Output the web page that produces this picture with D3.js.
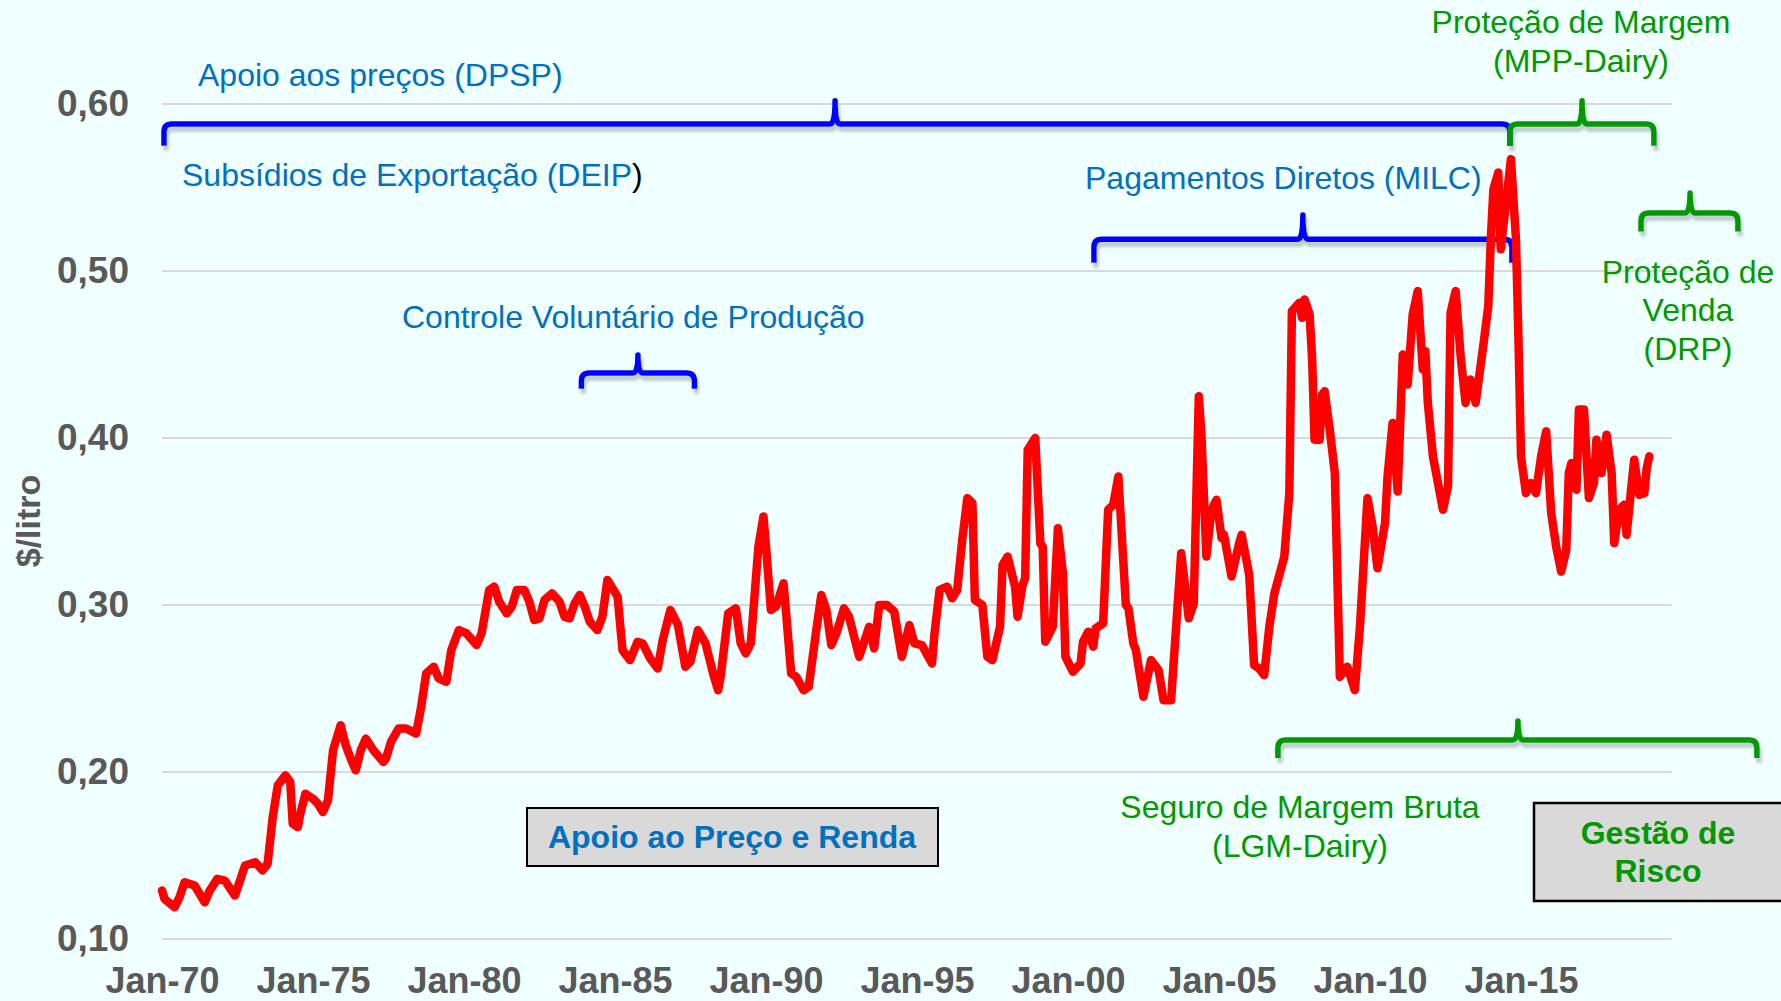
<!DOCTYPE html>
<html>
<head>
<meta charset="utf-8">
<script src="https://cdn.jsdelivr.net/npm/d3@7"></script>
<style>
  body { margin: 0; background: #f0ffff; }
  svg { display: block; font-family: "Liberation Sans", Arial, sans-serif; }
</style>
</head>
<body>
<svg id="chart" width="1781" height="1001"></svg>
<script>
// milk price, $/litro at its turning points
const months = [
  "1970-01","1970-02","1970-06","1970-08","1970-10","1971-02","1971-06","1971-08","1971-11",
  "1972-02","1972-06","1972-08","1972-10","1973-02","1973-05","1973-07","1973-09","1973-11",
  "1974-02","1974-04","1974-05","1974-07","1974-08","1974-10","1975-01","1975-03","1975-05",
  "1975-07","1975-09","1975-12","1976-02","1976-04","1976-06","1976-08","1976-10","1977-01",
  "1977-05","1977-06","1977-08","1977-11","1978-02","1978-06","1978-08","1978-10","1979-01",
  "1979-03","1979-06","1979-08","1979-11","1980-02","1980-06","1980-08","1980-11","1981-01",
  "1981-03","1981-06","1981-08","1981-10","1982-01","1982-03","1982-05","1982-07","1982-09",
  "1982-12","1983-03","1983-05","1983-07","1983-09","1983-11","1984-01","1984-03","1984-06",
  "1984-08","1984-10","1985-02","1985-04","1985-07","1985-10","1985-12","1986-03","1986-06",
  "1986-08","1986-11","1987-02","1987-05","1987-07","1987-10","1988-01","1988-04","1988-06",
  "1988-07","1988-10","1989-01","1989-03","1989-05","1989-07","1989-10","1989-12","1990-01",
  "1990-03","1990-05","1990-08","1990-09","1990-11","1991-01","1991-04","1991-06","1991-09",
  "1991-11","1992-01","1992-03","1992-05","1992-08","1992-10","1993-02","1993-06","1993-08",
  "1993-10","1994-01","1994-04","1994-07","1994-10","1994-12","1995-03","1995-07","1995-08",
  "1995-10","1996-01","1996-03","1996-05","1996-07","1996-09","1996-11","1996-12","1997-03",
  "1997-05","1997-07","1997-10","1997-11","1998-01","1998-04","1998-05","1998-07","1998-08",
  "1998-09","1998-12","1999-02","1999-03","1999-04","1999-07","1999-09","1999-11","1999-12",
  "2000-03","2000-06","2000-07","2000-09","2000-11","2000-12","2001-03","2001-05","2001-07",
  "2001-09","2001-12","2002-01","2002-03","2002-04","2002-07","2002-10","2003-01","2003-03",
  "2003-06","2003-10","2004-01","2004-03","2004-05","2004-06","2004-08","2004-10","2004-12",
  "2005-02","2005-03","2005-06","2005-09","2005-10","2006-01","2006-03","2006-05","2006-07",
  "2006-09","2006-11","2007-03","2007-05","2007-06","2007-09","2007-10","2007-11","2008-01",
  "2008-02","2008-03","2008-05","2008-06","2008-07","2008-09","2008-11","2009-01","2009-04",
  "2009-07","2009-09","2009-12","2010-02","2010-04","2010-07","2010-08","2010-10","2010-12",
  "2011-02","2011-04","2011-06","2011-08","2011-10","2011-11","2011-12","2012-02","2012-06",
  "2012-08","2012-09","2012-11","2013-01","2013-03","2013-05","2013-07","2013-10","2013-12",
  "2014-01","2014-02","2014-04","2014-05","2014-09","2014-11","2014-12","2015-01","2015-03",
  "2015-05","2015-07","2015-09","2015-11","2016-01","2016-03","2016-05","2016-07","2016-08",
  "2016-09","2016-11","2016-12","2017-02","2017-03","2017-04","2017-06","2017-07","2017-09",
  "2017-11","2018-01","2018-02","2018-04","2018-06","2018-07","2018-09","2018-10","2018-12",
  "2019-02","2019-03","2019-04"
];
const prices = [
  0.129,0.124,0.119,0.125,0.134,0.132,0.122,0.129,0.136,
  0.135,0.126,0.135,0.144,0.146,0.141,0.145,0.173,0.192,
  0.198,0.194,0.169,0.167,0.175,0.187,0.184,0.181,0.176,
  0.183,0.213,0.228,0.216,0.208,0.201,0.213,0.220,0.213,
  0.206,0.208,0.218,0.226,0.226,0.223,0.239,0.259,0.263,
  0.256,0.254,0.273,0.285,0.283,0.276,0.283,0.309,0.311,
  0.302,0.295,0.299,0.309,0.309,0.302,0.291,0.292,0.303,
  0.307,0.302,0.293,0.292,0.301,0.306,0.299,0.290,0.285,
  0.293,0.315,0.305,0.273,0.267,0.278,0.277,0.268,0.262,
  0.279,0.297,0.288,0.263,0.266,0.285,0.277,0.259,0.249,
  0.257,0.295,0.298,0.277,0.271,0.277,0.335,0.353,0.335,
  0.297,0.299,0.313,0.295,0.259,0.257,0.249,0.251,0.285,
  0.306,0.297,0.276,0.283,0.298,0.293,0.269,0.287,0.274,
  0.300,0.300,0.296,0.269,0.288,0.277,0.276,0.265,0.283,
  0.309,0.311,0.304,0.309,0.339,0.364,0.361,0.303,0.300,
  0.269,0.267,0.287,0.324,0.329,0.311,0.293,0.312,0.316,
  0.393,0.400,0.337,0.335,0.278,0.287,0.346,0.319,0.269,
  0.260,0.265,0.278,0.284,0.275,0.286,0.289,0.357,0.360,
  0.377,0.300,0.298,0.277,0.273,0.245,0.267,0.261,0.243,
  0.243,0.331,0.292,0.301,0.425,0.403,0.329,0.357,0.363,
  0.340,0.342,0.317,0.337,0.342,0.318,0.264,0.262,0.258,
  0.287,0.307,0.329,0.367,0.476,0.481,0.472,0.483,0.474,
  0.447,0.399,0.399,0.426,0.428,0.405,0.379,0.257,0.263,
  0.249,0.287,0.364,0.347,0.322,0.349,0.377,0.409,0.368,
  0.450,0.432,0.474,0.488,0.441,0.452,0.421,0.389,0.357,
  0.371,0.475,0.488,0.449,0.421,0.435,0.421,0.455,0.479,
  0.519,0.549,0.559,0.513,0.567,0.519,0.459,0.389,0.367,
  0.373,0.367,0.389,0.404,0.355,0.335,0.320,0.333,0.379,
  0.385,0.369,0.417,0.417,0.391,0.364,0.373,0.399,0.379,
  0.402,0.379,0.337,0.357,0.360,0.342,0.373,0.387,0.366,
  0.367,0.382,0.389
];
const yTicks = [0.10, 0.20, 0.30, 0.40, 0.50, 0.60];
const xTickYears = [1970, 1975, 1980, 1985, 1990, 1995, 2000, 2005, 2010, 2015];
const xTickLabels = ["Jan-70","Jan-75","Jan-80","Jan-85","Jan-90","Jan-95","Jan-00","Jan-05","Jan-10","Jan-15"];
const mppStart = "2014-08-20";

// program braces: span in time, height in $/litro
const braces = [
  {from: "1970-01-25", to: "2014-08-20", tip: "1992-04-15", level: 0.588, top: 0.602, leg: 0.575, color: "#0000ff"},
  {from: "2014-08-20", to: "2019-05-27", tip: "2017-01-08", level: 0.588, top: 0.602, leg: 0.575, color: "#009a00"},
  {from: "2000-11-10", to: "2014-09-13", tip: "2007-10-12", level: 0.519, top: 0.5335, leg: 0.505, color: "#0000ff"},
  {from: "2018-12-22", to: "2022-03-08", tip: "2020-08-06", level: 0.5347, top: 0.5467, leg: 0.5237, color: "#009a00"},
  {from: "1983-11-21", to: "1987-08-19", tip: "1985-10-05", level: 0.4389, top: 0.4497, leg: 0.4295, color: "#0000ff"},
  {from: "2006-12-14", to: "2022-10-24", tip: "2014-11-25", level: 0.2192, top: 0.2305, leg: 0.2084, color: "#009a00"}
];

const blue = "#0070c0", green = "#009900";

const parseMonth = d3.timeParse("%Y-%m");
const parseDay = d3.timeParse("%Y-%m-%d");
const data = months.map((m, i) => ({date: parseMonth(m), value: prices[i]}));

const svg = d3.select("#chart");
const margin = {top: 104, right: 109, bottom: 62, left: 162};
const width = 1781, height = 1001;

svg.append("rect").attr("width", width).attr("height", height).attr("fill", "#f0ffff");

const defs = svg.append("defs");
defs.append("filter").attr("id", "shadow")
    .attr("x", "-5%").attr("y", "-50%").attr("width", "110%").attr("height", "200%")
  .append("feDropShadow")
    .attr("dx", 2).attr("dy", 5).attr("stdDeviation", 1.5)
    .attr("flood-color", "#7a8a8a").attr("flood-opacity", 0.45);

const x = d3.scaleTime()
    .domain([new Date(1970, 0, 1), new Date(2020, 0, 1)])
    .range([margin.left, width - margin.right]);
const y = d3.scaleLinear()
    .domain([0.1, 0.6])
    .range([height - margin.bottom, margin.top]);

// gridlines
svg.append("g")
  .selectAll("line").data(yTicks).enter().append("line")
    .attr("x1", x.range()[0]).attr("x2", x.range()[1])
    .attr("y1", d => y(d)).attr("y2", d => y(d))
    .attr("stroke", "#d9d9d9").attr("stroke-width", 2);

// axes
const fmt = d => d.toFixed(2).replace(".", ",");
const yAxis = d3.axisLeft(y).tickValues(yTicks).tickFormat(fmt).tickSize(0).tickPadding(33);
const gy = svg.append("g").attr("transform", `translate(${margin.left},0)`).call(yAxis);

const xAxis = d3.axisBottom(x)
    .tickValues(xTickYears.map(yr => new Date(yr, 0, 1)))
    .tickFormat((d, i) => xTickLabels[i])
    .tickSize(0).tickPadding(28);
const gx = svg.append("g").attr("transform", `translate(0,${height - margin.bottom})`).call(xAxis);

[gx, gy].forEach(g => {
  g.select(".domain").remove();
  g.selectAll("text")
    .attr("fill", "#595959")
    .style("font-weight", "bold")
    .style("font-family", "'Liberation Sans', Arial, sans-serif");
});
gy.selectAll("text").style("font-size", "37px");
gx.selectAll("text").style("font-size", "36px");

svg.append("text")
    .attr("transform", "translate(40,521) rotate(-90)")
    .attr("text-anchor", "middle")
    .attr("fill", "#595959")
    .style("font-size", "34px").style("font-weight", "bold")
    .text("$/litro");

// braces
function bracePath(b) {
  const x1 = x(parseDay(b.from)), x2 = x(parseDay(b.to)), xm = x(parseDay(b.tip));
  const yl = y(b.level), yt = y(b.top), yb = y(b.leg);
  const r = 8, s = 5;
  return `M${x1},${yb} L${x1},${yl + r} Q${x1},${yl} ${x1 + r},${yl} L${xm - s},${yl}` +
         ` Q${xm},${yl} ${xm},${yt} Q${xm},${yl} ${xm + s},${yl}` +
         ` L${x2 - r},${yl} Q${x2},${yl} ${x2},${yl + r} L${x2},${yb}`;
}
svg.append("g").attr("filter", "url(#shadow)")
  .selectAll("path").data(braces).enter().append("path")
    .attr("d", bracePath)
    .attr("fill", "none")
    .attr("stroke", d => d.color)
    .attr("stroke-width", 5.5)
    .attr("stroke-linejoin", "round");

// price line
const line = d3.line().x(d => x(d.date)).y(d => y(d.value));
svg.append("path").datum(data)
    .attr("d", line)
    .attr("fill", "none")
    .attr("stroke", "#ff0000")
    .attr("stroke-width", 8.5)
    .attr("stroke-linejoin", "round")
    .attr("stroke-linecap", "round");

// MPP start marker
svg.append("line")
    .attr("x1", x(parseDay(mppStart))).attr("x2", x(parseDay(mppStart)))
    .attr("y1", y(0.6012)).attr("y2", y(0.0952))
    .attr("stroke", "#000").attr("stroke-width", 4.5)
    .attr("stroke-dasharray", "4.5,6")
    .attr("filter", "url(#shadow)");

// boxes
svg.append("rect").attr("x", 527).attr("y", 808).attr("width", 411).attr("height", 58)
    .attr("fill", "#d9d9d9").attr("stroke", "#000").attr("stroke-width", 2);
svg.append("rect").attr("x", 1534).attr("y", 803).attr("width", 260).attr("height", 98)
    .attr("fill", "#d9d9d9").attr("stroke", "#000").attr("stroke-width", 2.5);

// annotation text
const labels = [
  {t: "Apoio aos preços (DPSP)", x: 198, y: 86, c: blue, a: "start"},
  {t: "Controle Voluntário de Produção", x: 402, y: 328, c: blue, a: "start"},
  {t: "Pagamentos Diretos (MILC)", x: 1085, y: 189, c: blue, a: "start"},
  {t: "Proteção de Margem", x: 1581, y: 33, c: green, a: "middle"},
  {t: "(MPP-Dairy)", x: 1581, y: 72, c: green, a: "middle"},
  {t: "Proteção de", x: 1688, y: 283, c: green, a: "middle"},
  {t: "Venda", x: 1688, y: 321, c: green, a: "middle"},
  {t: "(DRP)", x: 1688, y: 360, c: green, a: "middle"},
  {t: "Seguro de Margem Bruta", x: 1300, y: 818, c: green, a: "middle"},
  {t: "(LGM-Dairy)", x: 1300, y: 857, c: green, a: "middle"},
  {t: "Apoio ao Preço e Renda", x: 732, y: 848, c: blue, a: "middle", b: true},
  {t: "Gestão de", x: 1658, y: 844, c: green, a: "middle", b: true},
  {t: "Risco", x: 1658, y: 882, c: green, a: "middle", b: true}
];
svg.append("g").selectAll("text").data(labels).enter().append("text")
    .attr("x", d => d.x).attr("y", d => d.y)
    .attr("text-anchor", d => d.a)
    .attr("fill", d => d.c)
    .style("font-size", "32px")
    .style("font-weight", d => d.b ? "bold" : "normal")
    .text(d => d.t);

const deip = svg.append("text").attr("x", 182).attr("y", 186)
    .style("font-size", "32px").attr("fill", blue);
deip.append("tspan").text("Subsídios de Exportação (DEIP");
deip.append("tspan").attr("fill", "#000").text(")");
</script>
</body>
</html>
